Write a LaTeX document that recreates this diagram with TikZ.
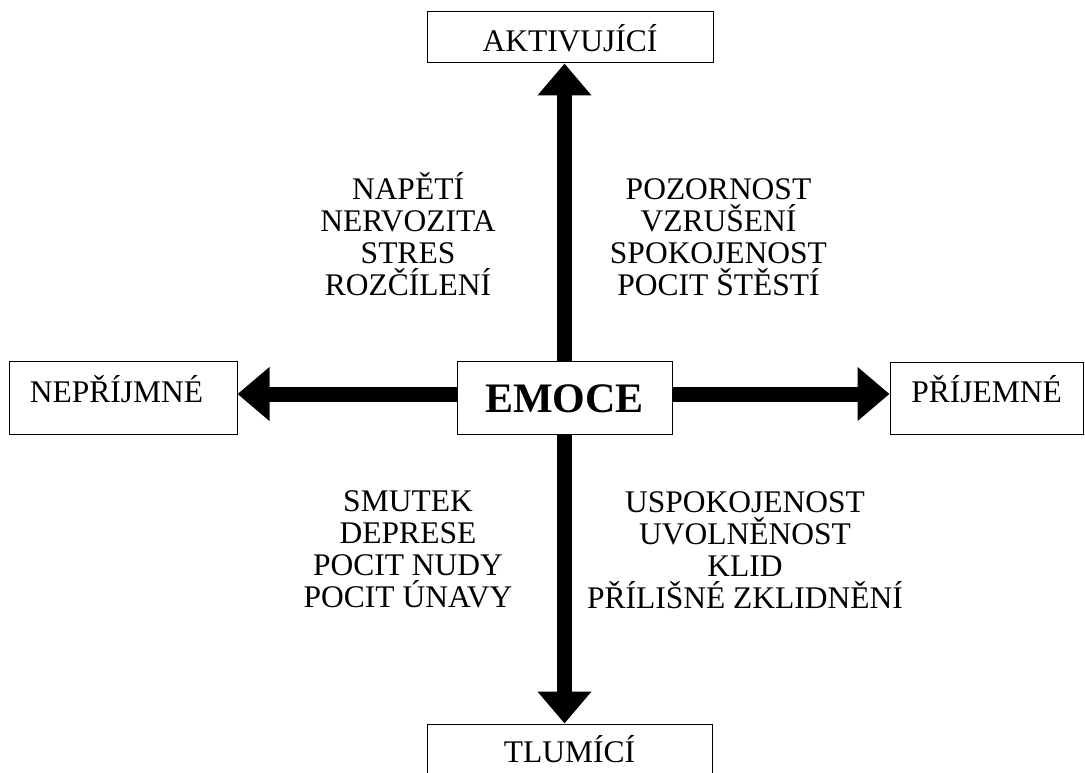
\documentclass[tikz,border=0pt]{standalone}
\usepackage{fontspec}
\setmainfont{Liberation Serif}
\usetikzlibrary{arrows.meta}
\begin{document}
\begin{tikzpicture}[x=1pt,y=-1pt,
  box/.style={draw=black, line width=1pt, inner sep=0pt, fill=white,
    font=\fontsize{31.5}{32}\selectfont},
  words/.style={align=center, anchor=base, inner sep=0pt,
    font=\fontsize{31.5}{32}\selectfont},
  bigarrow/.style={line width=15pt, -{Triangle[length=32pt,width=52pt]}}]
\useasboundingbox (0,0) rectangle (1085,773);
\clip (0,0) rectangle (1085,773);
\fill[white] (0,0) rectangle (1085,773);
\node[box, minimum width=286pt, minimum height=51pt, text height=29pt, text depth=0pt] (akt) at (570,37.5) {AKTIVUJÍCÍ};
\node[box, minimum width=228pt, minimum height=73pt, text height=20pt, text depth=11pt] (nep) at (123,397.5) {\hspace*{-13pt}NEPŘÍJMNÉ};
\node[box, minimum width=215pt, minimum height=73pt, text height=29pt, text depth=0pt,
  font=\fontsize{42}{42}\selectfont\bfseries] (emoce) at (564.5,397.5) {EMOCE};
\node[box, minimum width=193pt, minimum height=72pt, text height=20pt, text depth=11pt] (prij) at (986.5,398) {PŘÍJEMNÉ};
\node[box, minimum width=285pt, minimum height=73pt, text height=20pt, text depth=17pt] (tlum) at (569.5,760.5) {TLUMÍCÍ};
\coordinate (lstart) at ([yshift=3.5pt]emoce.west);
\coordinate (rstart) at ([yshift=3.5pt]emoce.east);
\draw[bigarrow] (emoce.north) -- (emoce.north |- akt.south);
\draw[bigarrow] (emoce.south) -- (emoce.south |- tlum.north);
\draw[bigarrow] (lstart) -- (lstart -| nep.east);
\draw[bigarrow] (rstart) -- (rstart -| prij.west);
\node[words] (tl) at (408,295) {NAPĚTÍ\\NERVOZITA\\STRES\\ROZČÍLENÍ};
\node[words] (tr) at (718.5,295) {POZORNOST\\VZRUŠENÍ\\SPOKOJENOST\\POCIT ŠTĚSTÍ};
\node[words] (bl) at (408,607) {SMUTEK\\DEPRESE\\POCIT NUDY\\POCIT ÚNAVY};
\node[words] (br) at (745,608) {USPOKOJENOST\\UVOLNĚNOST\\KLID\\PŘÍLIŠNÉ ZKLIDNĚNÍ};
\end{tikzpicture}
\end{document}
